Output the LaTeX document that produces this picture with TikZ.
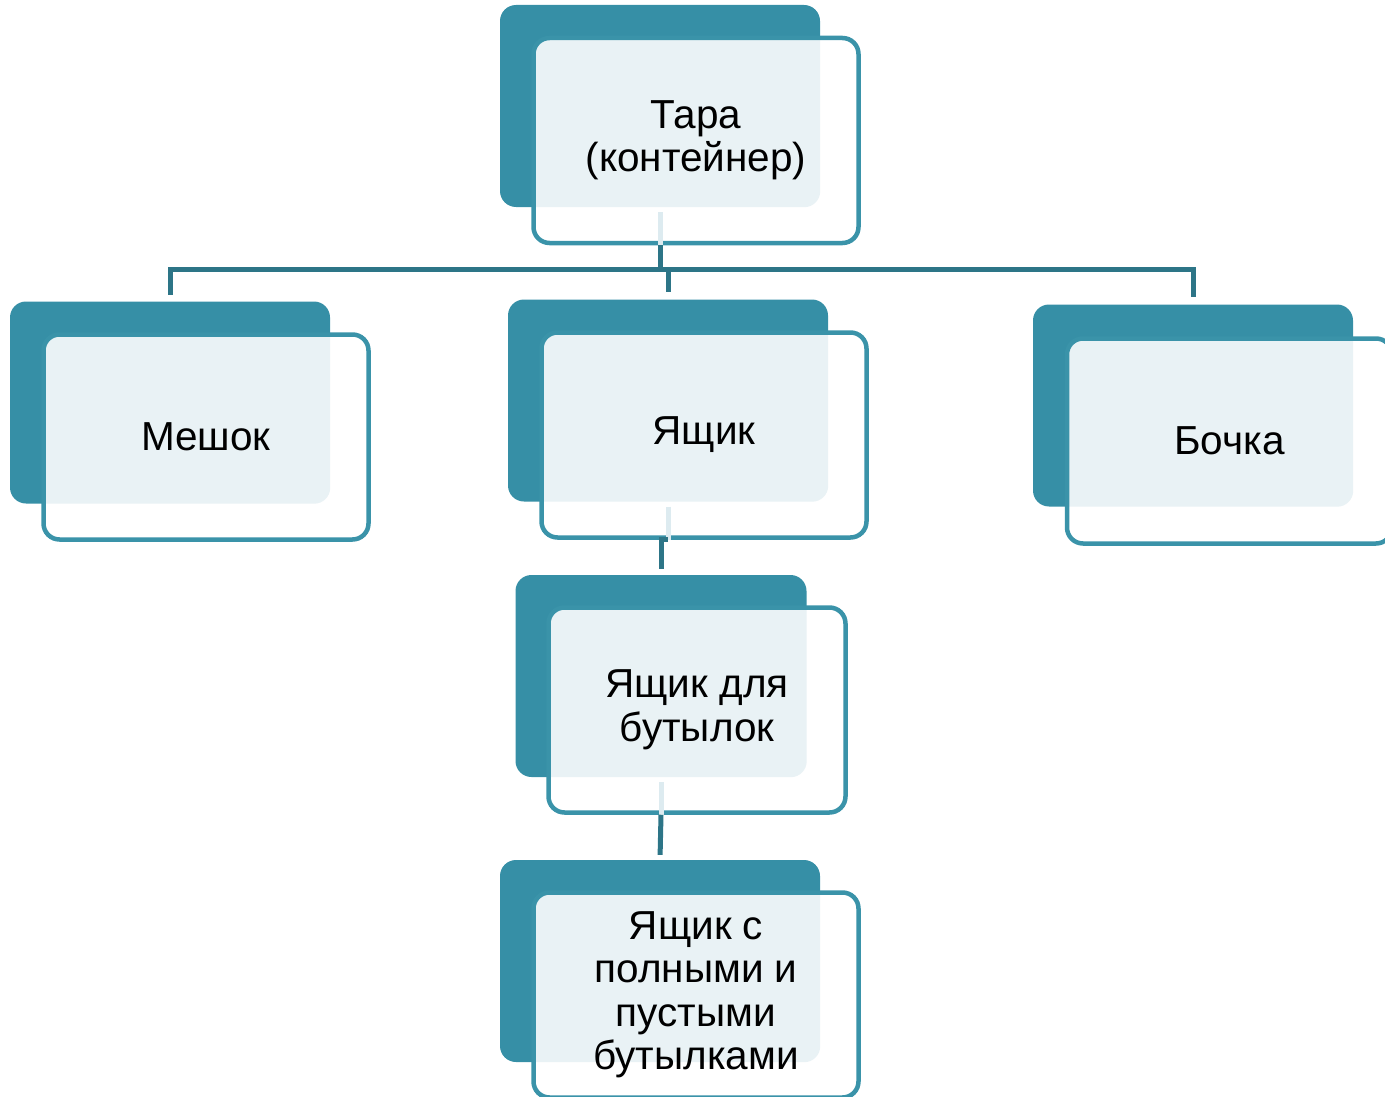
\documentclass[tikz,border=0pt]{standalone}
\usepackage{fontspec}
\setmainfont{Liberation Sans}
\usetikzlibrary{calc}

\definecolor{Oscuro}{HTML}{368FA6}
\definecolor{Borde}{HTML}{3A93A9}
\definecolor{Claro}{HTML}{E9F2F5}
\definecolor{Tenue}{HTML}{DDEBF0}
\definecolor{Linea}{HTML}{2D7587}

\begin{document}
\begin{tikzpicture}[x=1pt,y=-1pt]
    \tikzset{Fondo/.style = {shape=rectangle,fill=Oscuro,rounded corners=16pt,minimum width=320pt,minimum height=202pt,inner sep=0pt}}
    \tikzset{Marco/.style = {shape=rectangle,draw=Borde,line width=4.5pt,fill=white,rounded corners=16pt,minimum width=325pt,minimum height=205pt,inner sep=0pt,
        align=center,font=\fontsize{40.5}{43.5}\selectfont,
        path picture={\fill[Claro,rounded corners=16pt] (#1.north west) rectangle (#1.south east);}}}

    \tikzset{linea/.style = {draw=Linea,line width=5pt}}
    \tikzset{lineaTenue/.style = {draw=Tenue,line width=5pt,shorten <=5pt}}

    \useasboundingbox (0,0) rectangle (1385,1097);

    \node[Fondo] (TaraF) at (660,106) {};
    \node[Marco=TaraF] (TaraM) at (696,140.5) {Тара\\(контейнер)};

    \node[Fondo] (MeshokF) at (170,402.5) {};
    \node[Marco=MeshokF] (MeshokM) at (206,437) {Мешок};

    \node[Fondo] (YashchikF) at (668,400.5) {};
    \node[Marco=YashchikF] (YashchikM) at (704,435) {Ящик};

    \node[Fondo] (BochkaF) at (1193,405.5) {};
    \node[Marco=BochkaF] (BochkaM) at (1229.5,441) {Бочка};

    \node[Fondo,minimum width=291pt] (BotellasF) at (661,676) {};
    \node[Marco=BotellasF,minimum width=297pt] (BotellasM) at (697,710) {Ящик для\\бутылок};

    \node[Fondo] (LlenasF) at (660,961) {};
    \node[Marco=LlenasF] (LlenasM) at (696,995) {Ящик с\\полными и\\пустыми\\бутылками};

    \coordinate (Rama) at (660,269);

    \draw[lineaTenue] (TaraF.south) -- (TaraF.south |- TaraM.south);
    \draw[lineaTenue] (YashchikF.south) -- (YashchikF.south |- YashchikM.south);
    \draw[lineaTenue] (BotellasF.south) -- (BotellasF.south |- BotellasM.south);

    \draw[linea] (TaraF.south |- TaraM.south) -- (Rama);
    \draw[linea,shorten >=6pt] (Rama) -| (MeshokF.north);
    \draw[linea,shorten >=7pt] (Rama) -| (YashchikF.north);
    \draw[linea,shorten >=7pt] (Rama) -| (BochkaF.north);

    \draw[linea,shorten >=6pt] (YashchikF.south |- YashchikM.south) -| (BotellasF.north);
    \draw[linea,shorten >=5pt] (BotellasF.south |- BotellasM.south) -- (LlenasF.north);

\end{tikzpicture}
\end{document}
